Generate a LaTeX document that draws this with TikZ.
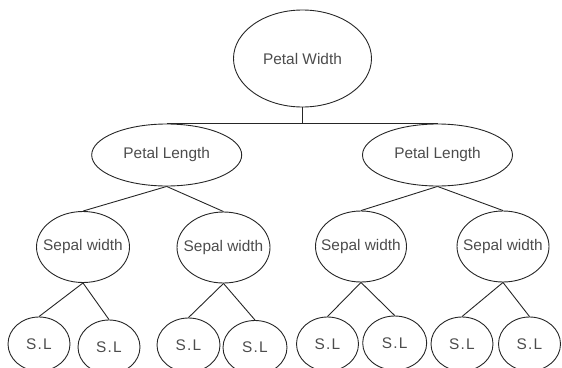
\documentclass[tikz,border=0pt]{standalone}
\usepackage{fontspec}
\setmainfont{Liberation Sans}
\newfontfamily\slfont[LetterSpace=8]{Liberation Sans}
\usetikzlibrary{shapes.geometric}
\tikzset{
  oval/.style={draw=black!85, line width=0.9pt, ellipse, inner sep=0pt,
    text=black!70, font=\fontsize{15.4}{18}\selectfont},
  pwbox/.style={oval, minimum width=138pt, minimum height=97pt},
  plbox/.style={oval, minimum width=150pt, minimum height=62pt},
  swbox/.style={oval, minimum width=93pt, minimum height=71pt},
  slbox/.style={oval, minimum width=62pt, minimum height=54pt, font=\fontsize{15.4}{18}\slfont},
  edge/.style={draw=black!85, line width=0.9pt}
}
\newcommand{\zt}[1]{\makebox[0pt]{#1}}
\begin{document}
\begin{tikzpicture}[x=1pt, y=-1pt]
\useasboundingbox (0,0) rectangle (562,367);
\node[pwbox] (pw) at (302.5,58.5) {\zt{Petal Width}};
\node[plbox] (plL) at (166.7,155) {\zt{Petal Length}};
\node[plbox] (plR) at (437.5,155) {\zt{Petal Length}};
\node[swbox] (sw1) at (83,247) {\zt{Sepal width}};
\node[swbox] (sw2) at (223.5,247.5) {\zt{Sepal width}};
\node[swbox, minimum width=91pt] (sw3) at (361,246.5) {\zt{Sepal width}};
\node[swbox, minimum width=92pt] (sw4) at (503,246.5) {\zt{Sepal width}};
\node[slbox] (sl1) at (39,344) {\zt{S.L}};
\node[slbox] (sl2) at (109,347) {\zt{S.L}};
\node[slbox, minimum width=63pt] (sl3) at (188.5,345) {\zt{S.L}};
\node[slbox, minimum width=64pt] (sl4) at (255,347.5) {\zt{S.L}};
\node[slbox] (sl5) at (327.5,344) {\zt{S.L}};
\node[slbox, minimum width=64pt] (sl6) at (394.7,343) {\zt{S.L}};
\node[slbox] (sl7) at (462,344) {\zt{S.L}};
\node[slbox] (sl8) at (529.5,344) {\zt{S.L}};
\coordinate (bar) at (pw.south |- plL.north);
\draw[edge] (pw.south) -- (bar);
\draw[edge] (plL.north) -- (plR.north);
\draw[edge] (plL.south) -- (sw1.north);
\draw[edge] (plL.south) -- (sw2.north);
\draw[edge] (plR.south) -- (sw3.north);
\draw[edge] (plR.south) -- (sw4.north);
\draw[edge] (sw1.south) -- (sl1.north);
\draw[edge] (sw1.south) -- (sl2.north);
\draw[edge] (sw2.south) -- (sl3.north);
\draw[edge] (sw2.south) -- (sl4.north);
\draw[edge] (sw3.south) -- (sl5.north);
\draw[edge] (sw3.south) -- (sl6.north);
\draw[edge] (sw4.south) -- (sl7.north);
\draw[edge] (sw4.south) -- (sl8.north);
\end{tikzpicture}
\end{document}
